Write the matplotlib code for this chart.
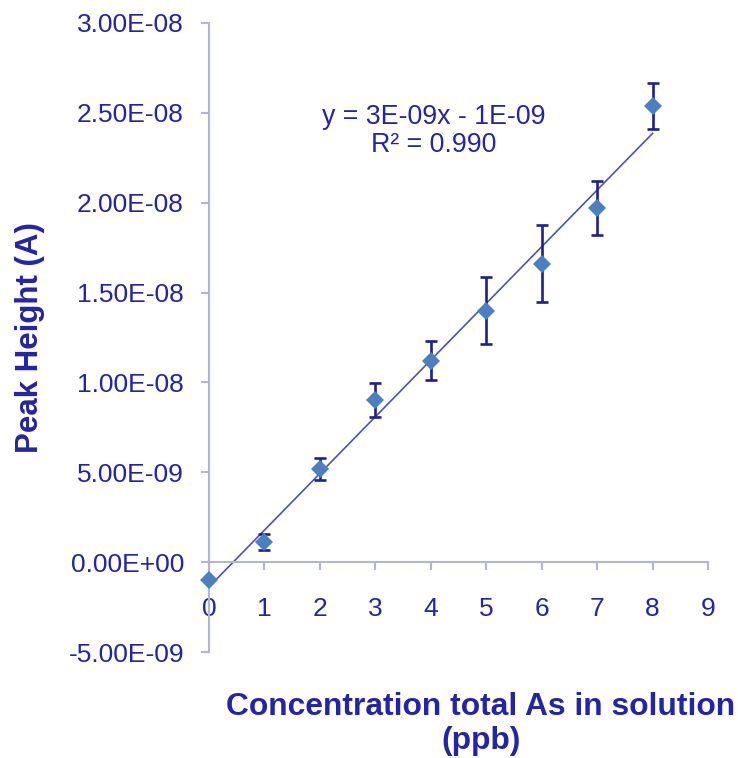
import numpy as np
import matplotlib
matplotlib.use("Agg")
import matplotlib.pyplot as plt

plt.rcParams['font.family'] = ['Liberation Sans', 'DejaVu Sans']

# Data
conc = [0, 1, 2, 3, 4, 5, 6, 7, 8]
peak = [-1.0e-9, 1.11e-9, 5.17e-9, 9.0e-9, 11.2e-9, 14.0e-9, 16.6e-9, 19.7e-9, 25.4e-9]
err = [0.0, 0.45e-9, 0.6e-9, 0.95e-9, 1.08e-9, 1.86e-9, 2.14e-9, 1.5e-9, 1.28e-9]
yticks = [-5e-9, 0, 5e-9, 1e-8, 1.5e-8, 2e-8, 2.5e-8, 3e-8]
ytick_labels = ['-5.00E-09', '0.00E+00', '5.00E-09', '1.00E-08', '1.50E-08',
                '2.00E-08', '2.50E-08', '3.00E-08']
xticks = [0, 1, 2, 3, 4, 5, 6, 7, 8, 9]
eq_text = "y = 3E-09x - 1E-09\nR² = 0.990"

text_col = '#2424a6'
axis_col = '#b4b4d8'
marker_col = '#4a80c0'
err_col = '#1f1f90'
line_col = '#5050b8'

fig = plt.figure(figsize=(7.38, 7.58), dpi=100)
ax = fig.add_axes([209/738, 1-652/758, (708-209)/738, (652-23)/758])
ax.set_xlim(0, 9)
ax.set_ylim(-5e-9, 3e-8)

# trend line
coef = np.polyfit(conc, peak, 1)
xl = np.array([conc[0], conc[-1]])
ax.plot(xl, np.polyval(coef, xl), color=line_col, lw=1.2, zorder=2, clip_on=False)

ax.errorbar(conc, peak, yerr=err, fmt='none', ecolor=err_col, elinewidth=1.9,
            capsize=4.5, capthick=1.9, zorder=3, clip_on=False)
ax.plot(conc, peak, 'D', color=marker_col, markersize=9.5, markeredgewidth=0,
        zorder=4, clip_on=False)

for s in ['top', 'right']:
    ax.spines[s].set_visible(False)
ax.spines['bottom'].set_position(('data', 0))
ax.spines['left'].set_color(axis_col)
ax.spines['bottom'].set_color(axis_col)
ax.spines['left'].set_linewidth(1.5)
ax.spines['bottom'].set_linewidth(1.5)

ax.set_yticks(yticks)
ax.set_yticklabels(ytick_labels)
ax.set_xticks(xticks)
ax.set_xticklabels([str(v) for v in xticks])
ax.tick_params(axis='y', direction='out', length=6, width=1.5, color=axis_col,
               labelcolor=text_col, labelsize=19, pad=12)
ax.tick_params(axis='x', direction='out', length=6, width=1.5, color=axis_col,
               labelcolor=text_col, labelsize=19, pad=19)

ax.text(434/738, 1-131/758, eq_text, transform=fig.transFigure, ha='center', va='center',
        color=text_col, fontsize=19.3, linespacing=1.15)

fig.text(30/738, 1-338/758, 'Peak Height (A)', rotation=90, ha='center', va='center',
         color=text_col, fontsize=22.5, fontweight='bold')
fig.text(481/738, 1-724/758, 'Concentration total As in solution\n(ppb)', ha='center',
         va='center', color=text_col, fontsize=22.9, fontweight='bold', linespacing=1.2)

fig.savefig('out.png', dpi=100)
